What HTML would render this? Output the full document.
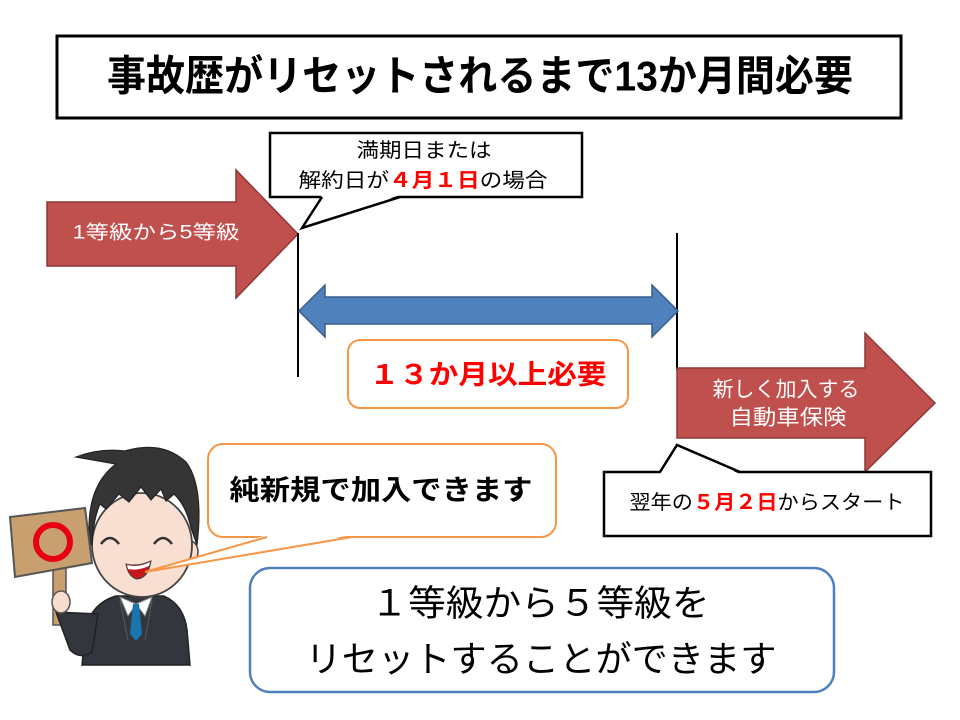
<!DOCTYPE html>
<html><head><meta charset="utf-8"><style>
html,body{margin:0;padding:0;background:#fff;}
svg{display:block;}
text{font-family:"Liberation Sans","Noto Sans CJK JP",sans-serif;dominant-baseline:central;}
</style></head><body>
<svg width="960" height="720" viewBox="0 0 960 720" xmlns="http://www.w3.org/2000/svg">
<rect width="960" height="720" fill="#fff"/>
<!-- title -->
<rect x="57" y="36" width="844" height="82" fill="#fff" stroke="#000" stroke-width="3"/>
<text x="480" y="76" text-anchor="middle" font-size="42" font-weight="bold" textLength="746" lengthAdjust="spacingAndGlyphs">事故歴がリセットされるまで13か月間必要</text>

<!-- left red arrow -->
<path d="M47 202 L236 202 L236 170 L298 234 L236 298 L236 266 L47 266 Z" fill="#c0504d" stroke="#8c3836" stroke-width="1.5"/>
<text x="156" y="233" text-anchor="middle" font-size="19" fill="#fff" textLength="167" lengthAdjust="spacingAndGlyphs">1等級から5等級</text>

<!-- top callout -->
<rect x="270" y="133" width="312" height="64" fill="#fff" stroke="#000" stroke-width="2.5"/>
<polygon points="322,195 302,228 400,195" fill="#fff"/>
<polyline points="322,197 302,228 400,197" fill="none" stroke="#000" stroke-width="2.5"/>
<text x="424" y="151" text-anchor="middle" font-size="20" textLength="135" lengthAdjust="spacingAndGlyphs">満期日または</text>
<text x="423" y="181" text-anchor="middle" font-size="20" textLength="249" lengthAdjust="spacingAndGlyphs">解約日が<tspan font-weight="bold" fill="#f00">４月１日</tspan>の場合</text>

<!-- vertical lines -->
<line x1="298" y1="233" x2="298" y2="377" stroke="#000" stroke-width="2"/>
<line x1="677" y1="233" x2="677" y2="370" stroke="#000" stroke-width="2"/>

<!-- blue double arrow -->
<path d="M299 311 L325 285 L325 297 L652 297 L652 285 L678 311 L652 337 L652 324 L325 324 L325 337 Z" fill="#4f81bd" stroke="#385d8a" stroke-width="1.5"/>

<!-- 13 months box -->
<rect x="348" y="340" width="280" height="68" rx="12" fill="#fff" stroke="#f79646" stroke-width="2"/>
<text x="488" y="375" text-anchor="middle" font-size="27" font-weight="bold" fill="#f00" textLength="237" lengthAdjust="spacingAndGlyphs">１３か月以上必要</text>

<!-- right red arrow -->
<path d="M677 368 L865 368 L865 333 L935 403 L865 472 L865 438 L677 438 Z" fill="#c0504d" stroke="#8c3836" stroke-width="1.5"/>
<text x="786" y="390" text-anchor="middle" font-size="21" fill="#fff" textLength="147" lengthAdjust="spacingAndGlyphs">新しく加入する</text>
<text x="788" y="418" text-anchor="middle" font-size="21" fill="#fff" textLength="117" lengthAdjust="spacingAndGlyphs">自動車保険</text>

<!-- bottom right callout -->
<rect x="604" y="472" width="327" height="64" fill="#fff" stroke="#000" stroke-width="2.5"/>
<polygon points="660,474 677,445 740,474" fill="#fff"/>
<polyline points="660,472 677,445 740,472" fill="none" stroke="#000" stroke-width="2.5"/>
<text x="767" y="503" text-anchor="middle" font-size="20" textLength="275" lengthAdjust="spacingAndGlyphs">翌年の<tspan font-weight="bold" fill="#f00">５月２日</tspan>からスタート</text>

<!-- man -->
<g>
  <!-- suit body -->
  <path d="M82 665 L86 628 Q92 603 116 596 L164 596 Q184 605 187 630 L190 665 Z" fill="#33363d" stroke="#222" stroke-width="1.5"/>
  <!-- collar -->
  <polygon points="120,597 136,604 128,616" fill="#fff" stroke="#888" stroke-width="1"/>
  <polygon points="152,597 136,604 145,616" fill="#fff" stroke="#888" stroke-width="1"/>
  <!-- tie -->
  <polygon points="133,604 139,604 142,634 136,641 130,634" fill="#1c74ad"/>
  <!-- lapel lines -->
  <path d="M120 600 L128 640 M152 600 L145 640" stroke="#555" stroke-width="1.2" fill="none"/>
  <!-- stick -->
  <rect x="53" y="565" width="13" height="60" fill="#c8a070" stroke="#555" stroke-width="1.5"/>
  <!-- sleeve -->
  <path d="M56 612 L70 650 Q80 660 92 652 L98 614 Z" fill="#33363d" stroke="#222" stroke-width="1.5"/>
  <!-- hand -->
  <ellipse cx="61" cy="602" rx="9" ry="11" fill="#f8dccd" stroke="#555" stroke-width="1.5"/>
  <!-- ear -->
  <ellipse cx="190" cy="552" rx="8" ry="11" fill="#f8dccd" stroke="#444" stroke-width="1.5"/>
  <!-- face -->
  <ellipse cx="142" cy="545" rx="50" ry="52" fill="#f9dfd2" stroke="#444" stroke-width="1.8"/>
  <!-- hair -->
  <path d="M90 545 Q84 488 116 464 L76 457 Q100 448 125 451 Q162 440 186 462 Q204 486 197 545 L191 528 Q186 505 174 494 L166 501 L161 489 L151 500 L141 487 L129 502 L119 494 L106 509 L100 504 Q93 520 92 545 Z" fill="#353535" stroke="#222" stroke-width="1.2"/>
  <!-- eyes -->
  <path d="M101 544 Q110 532 119 544" stroke="#333" stroke-width="2.5" fill="none"/>
  <path d="M154 544 Q163 532 172 544" stroke="#333" stroke-width="2.5" fill="none"/>
  <!-- mouth -->
  <path d="M126 564 Q138 567 151 561 Q148 579 136 579 Q128 576 126 564 Z" fill="#c8161d" stroke="#444" stroke-width="1"/>
  <path d="M127 565 Q138 568 150 562 L149 566 Q138 571 128 569 Z" fill="#fff"/>
  <!-- sign board -->
  <polygon points="10,517 85,508 92,563 15,577" fill="#c8a070" stroke="#555" stroke-width="2"/>
  <circle cx="53" cy="542" r="17" fill="none" stroke="#e60012" stroke-width="6"/>
</g>

<!-- orange speech bubble -->
<rect x="208" y="444" width="348" height="93" rx="15" fill="#fff" stroke="#f79646" stroke-width="2"/>
<polygon points="267,535 145,572 352,535" fill="#fff"/>
<polyline points="267,537 145,572 352,537" fill="none" stroke="#f79646" stroke-width="2"/>
<text x="381" y="490" text-anchor="middle" font-size="28" font-weight="bold" textLength="303" lengthAdjust="spacingAndGlyphs">純新規で加入できます</text>

<!-- blue box -->
<rect x="250" y="568" width="584" height="124" rx="20" fill="#fff" stroke="#4f81bd" stroke-width="2.5"/>
<text x="540" y="603" text-anchor="middle" font-size="36" textLength="339" lengthAdjust="spacingAndGlyphs">１等級から５等級を</text>
<text x="541" y="659" text-anchor="middle" font-size="36" textLength="471" lengthAdjust="spacingAndGlyphs">リセットすることができます</text>
</svg>
</body></html>
